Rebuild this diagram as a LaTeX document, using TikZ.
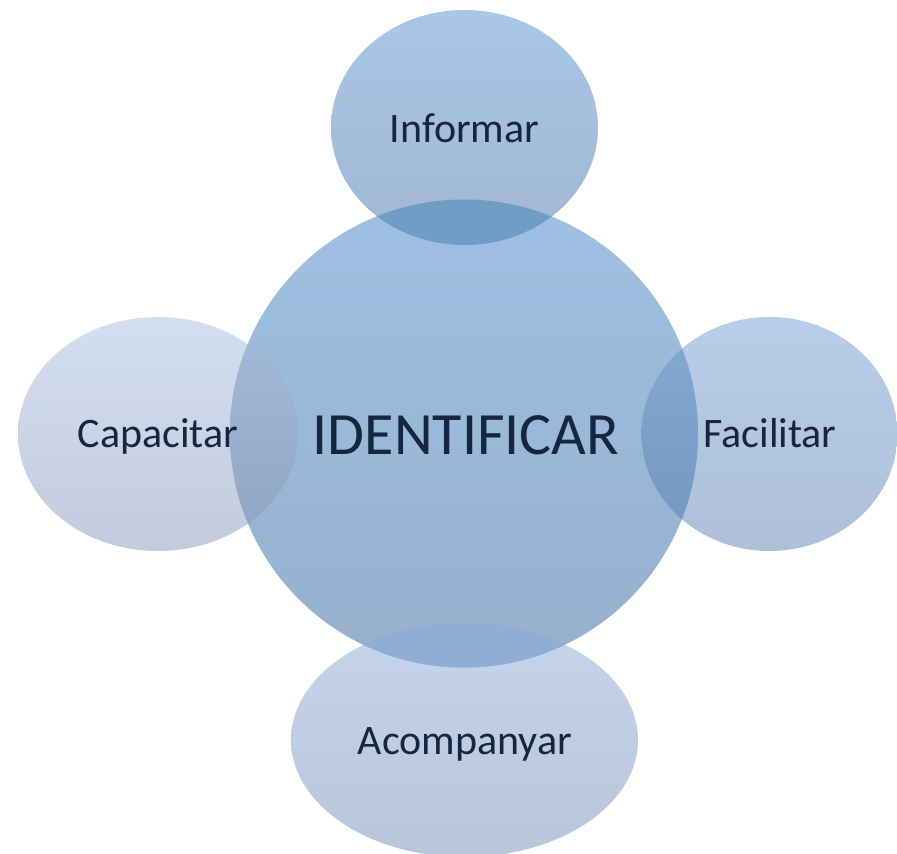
\documentclass[tikz,border=0pt]{standalone}
\usepackage{fontspec}
\setmainfont{Carlito}
\usetikzlibrary{shapes.geometric}
\definecolor{txt}{RGB}{22,38,64}
\tikzset{
  bubble/.style={ellipse, inner sep=0pt, draw=none},
  lbl/.style={anchor=base, text=txt, font=\fontsize{42}{50}\selectfont, inner sep=0pt},
}
\begin{document}
\begin{tikzpicture}[x=1pt,y=1pt]
\useasboundingbox (0,0) rectangle (897,854);
\clip (0,0) rectangle (897,854);
% satellites (y = 854 - image y)
\node[bubble, minimum width=267, minimum height=235,
      top color={rgb,255:red,169;green,198;blue,230}, bottom color={rgb,255:red,160;green,183;blue,210}]
      (top) at (464.5,726.5) {};
\node[bubble, minimum width=280, minimum height=234,
      top color={rgb,255:red,211;green,222;blue,239}, bottom color={rgb,255:red,193;green,203;blue,219}]
      (left) at (158,420) {};
\node[bubble, minimum width=256, minimum height=234,
      top color={rgb,255:red,184;green,205;blue,233}, bottom color={rgb,255:red,174;green,192;blue,216}]
      (right) at (769.5,420) {};
\node[bubble, minimum width=347, minimum height=234,
      top color={rgb,255:red,197;green,213;blue,237}, bottom color={rgb,255:red,185;green,197;blue,216}]
      (bottom) at (464.5,114) {};
% central circle
\node[bubble, circle, minimum size=468,
      top color={rgb,255:red,158;green,192;blue,227}, bottom color={rgb,255:red,150;green,176;blue,205}]
      (center) at (464,420.5) {};
% overlap lenses
\begin{scope}
  \clip (center.center) circle[radius=234];
  \fill[color={rgb,255:red,112;green,157;blue,198}]
    (top.center) ellipse[x radius=133.5, y radius=117.5];
  \shade[top color={rgb,255:red,162;green,187;blue,217}, bottom color={rgb,255:red,144;green,164;blue,194}]
    (left.center) ellipse[x radius=140, y radius=117];
  \shade[top color={rgb,255:red,132;green,170;blue,212}, bottom color={rgb,255:red,116;green,150;blue,190}]
    (right.center) ellipse[x radius=128, y radius=117];
  \fill[color={rgb,255:red,143;green,174;blue,212}]
    (bottom.center) ellipse[x radius=173.5, y radius=117];
\end{scope}
% labels
\node[lbl] (tInf) at (464.5,711) {Informar};
\node[lbl] (tCap) at (158,406) {Capacitar};
\node[lbl] (tFac) at (770,406) {Facilitar};
\node[lbl] (tAco) at (465,99) {Acompanyar};
\node[lbl, font=\fontsize{60}{70}\selectfont] (tId) at (466,399) {IDENTIFICAR};
\end{tikzpicture}
\end{document}
